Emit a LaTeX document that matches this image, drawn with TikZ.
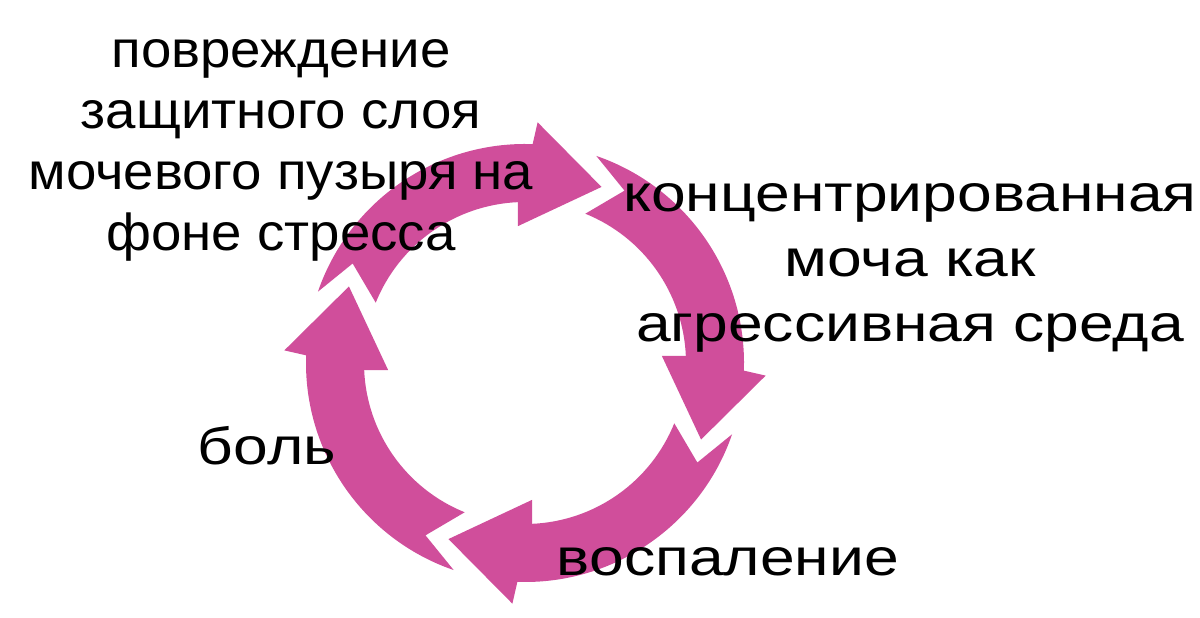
\documentclass[tikz,border=0pt]{standalone}
\usepackage{fontspec}
\setmainfont{Liberation Sans}
\newfontfamily\widefont[FakeStretch=1.2]{Liberation Sans}
\newfontfamily\narrowfont[FakeStretch=1.05]{Liberation Sans}
\usepackage{xcolor}
\definecolor{arrowpink}{RGB}{208,78,155}

\begin{document}
\begin{tikzpicture}[x=0.02cm,y=0.02cm,
  lbl/.style={font=\widefont\fontsize{29.6}{34.6}\selectfont, align=center, inner sep=0pt},
  cyclearrow/.style={fill=arrowpink, draw=none}]
\useasboundingbox (0,0) rectangle (1200,618);
\coordinate (c) at (525,255);
% four bent arrows round the cycle
\foreach \k in {0,1,2,3}{
  \begin{scope}[shift={(c)}, rotate=-90*\k]
    \fill[cyclearrow] (161:219) arc[start angle=161, end angle=88, radius=219]
      -- (87:241) -- (66.5:192) -- (93:137) -- (92.5:161)
      arc[start angle=92.5, end angle=158, radius=161] -- (150:199) -- cycle;
  \end{scope}
}
\node[lbl, font=\narrowfont\fontsize{29.6}{34.6}\selectfont] (damage) at (281,467.5) {повреждение\\защитного слоя\\мочевого пузыря на\\фоне стресса};
\node[lbl, font=\widefont\fontsize{29.6}{36.9}\selectfont] (urine) at (910,350) {концентрированная\\моча как\\агрессивная среда};
\node[lbl] (pain) at (267,172) {боль};
\node[lbl] (inflam) at (728,56.5) {воспаление};
\end{tikzpicture}
\end{document}
